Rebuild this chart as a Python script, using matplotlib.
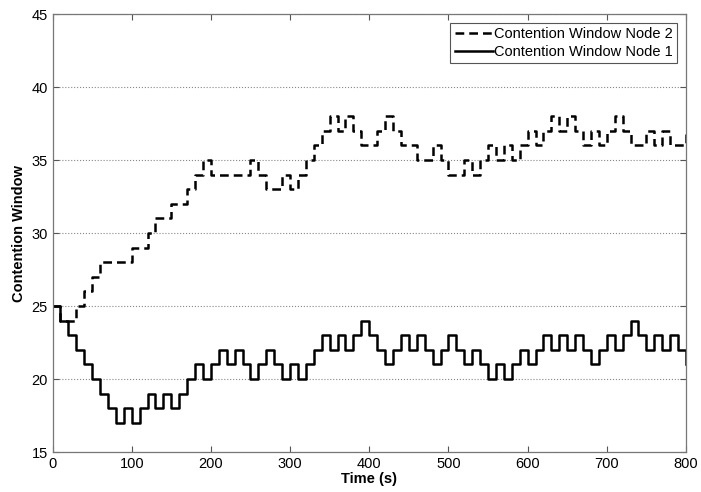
import matplotlib.pyplot as plt
import numpy as np

plt.rcParams['font.family'] = ['Liberation Sans', 'DejaVu Sans']

# contention window sampled every 10 s
time_s = np.arange(0, 801, 10)

cw_node1 = [25, 24, 23, 22, 21, 20, 19, 18, 17, 18,
            17, 18, 19, 18, 19, 18, 19, 20, 21, 20,
            21, 22, 21, 22, 21, 20, 21, 22, 21, 20,
            21, 20, 21, 22, 23, 22, 23, 22, 23, 24,
            23, 22, 21, 22, 23, 22, 23, 22, 21, 22,
            23, 22, 21, 22, 21, 20, 21, 20, 21, 22,
            21, 22, 23, 22, 23, 22, 23, 22, 21, 22,
            23, 22, 23, 24, 23, 22, 23, 22, 23, 22,
            21]

cw_node2 = [25, 24, 24, 25, 26, 27, 28, 28, 28, 28,
            29, 29, 30, 31, 31, 32, 32, 33, 34, 35,
            34, 34, 34, 34, 34, 35, 34, 33, 33, 34,
            33, 34, 35, 36, 37, 38, 37, 38, 37, 36,
            36, 37, 38, 37, 36, 36, 35, 35, 36, 35,
            34, 34, 35, 34, 35, 36, 35, 36, 35, 36,
            37, 36, 37, 38, 37, 38, 37, 36, 37, 36,
            37, 38, 37, 36, 36, 37, 36, 37, 36, 36,
            37]

x_ticks = [0, 100, 200, 300, 400, 500, 600, 700, 800]
y_ticks = [15, 20, 25, 30, 35, 40, 45]

fig = plt.figure(figsize=(7.01, 4.92), dpi=100)
ax = fig.add_axes([0.0749, 0.0813, 0.9037, 0.8902])

ax.plot(time_s, cw_node2, drawstyle='steps-post', color='black',
        linewidth=1.8, dashes=(3.5, 2.0), label='Contention Window Node 2')
ax.plot(time_s, cw_node1, drawstyle='steps-post', color='black',
        linewidth=1.8, label='Contention Window Node 1')

ax.set_xlim(0, 800)
ax.set_ylim(15, 45)
ax.set_xticks(x_ticks)
ax.set_yticks(y_ticks)
ax.yaxis.grid(True, linestyle=':', color='#888888', linewidth=0.8)
ax.set_axisbelow(True)

ax.tick_params(direction='in', top=True, right=True, length=4,
               labelsize=10.5, color='#555555', width=0.8)
for sp in ax.spines.values():
    sp.set_color('#777777')
    sp.set_linewidth(0.9)

ax.set_xlabel('Time (s)', fontsize=10.5, fontweight='bold', labelpad=1)
ax.set_ylabel('Contention Window', fontsize=10.5, fontweight='bold', labelpad=4)

leg = ax.legend(loc='upper right', fontsize=10.5, handlelength=2.6,
                handletextpad=0.1, borderpad=0.3, labelspacing=0.25,
                fancybox=False, framealpha=1, borderaxespad=0.6)
leg.get_frame().set_edgecolor('#555555')
leg.get_frame().set_linewidth(0.8)

plt.savefig('out.png', dpi=100)
